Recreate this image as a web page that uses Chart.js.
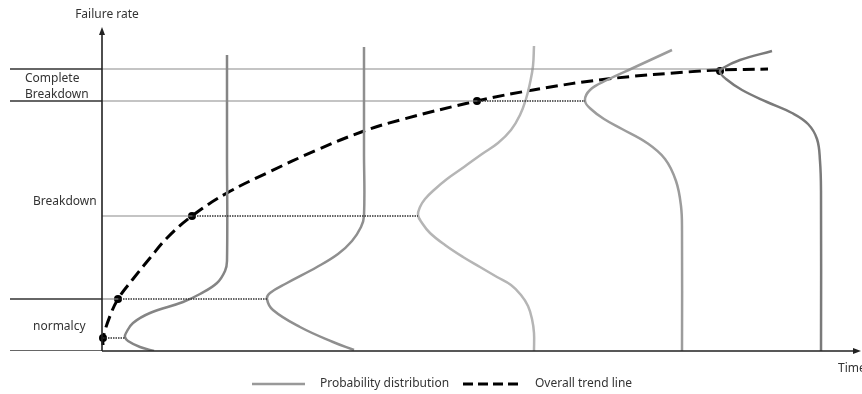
<!DOCTYPE html>
<html>
<head>
<meta charset="utf-8">
<script src="https://cdn.jsdelivr.net/npm/chart.js@4.4.1/dist/chart.umd.min.js"></script>
<style>
  html, body { margin: 0; padding: 0; background: #fff; }
  #wrap { width: 862px; height: 394px; position: relative; }
</style>
</head>
<body>
<div id="wrap"><canvas id="myChart"></canvas></div>
<script>
// zone boundaries on the failure-rate axis
const zoneBounds = [0, 52, 250, 282];
const zoneNames = [["normalcy"], ["Breakdown"], ["Complete", "Breakdown"]];

// overall trend line
const trendX = [1, 1, 8, 16, 31, 48, 65, 90, 125, 165, 215, 262, 298, 375, 431, 505, 598, 618, 666];
const trendY = [6, 13, 35, 52, 72, 93, 113, 135, 158, 178, 201, 220, 231, 250, 261, 272, 280, 281, 282];

// marked points on the trend, and where each distribution peaks
const markX = [1, 16, 90, 375, 618];
const markY = [13, 52, 135, 250, 280];
const peakX = [23, 165, 316, 483, 618];

// thin guide lines from the axis to a marked point
const guideY = [52, 135, 250, 282];
const guideEndX = [16, 90, 375, 618];

// probability distribution curves
const dist1X = [125, 125, 125, 123, 115, 98, 81, 48, 31, 24, 23, 26, 38, 52];
const dist1Y = [296, 200, 90, 80, 68, 57, 49, 38, 28, 18, 14, 10, 4, 0];
const dist2X = [262, 262, 262, 259, 250, 236, 215, 185, 168, 165, 171, 198, 231, 252];
const dist2Y = [304, 200, 135, 124, 110, 97, 84, 68, 58, 52, 41, 24, 9, 1];
const dist3X = [432, 431, 428, 424, 418, 409, 396, 380, 362, 345, 332, 323, 318, 316, 320, 328, 343, 361, 378, 395, 409, 419, 426, 430, 432, 432];
const dist3Y = [305, 285, 268, 252, 236, 221, 208, 197, 184, 172, 161, 152, 144, 136, 128, 118, 106, 94, 84, 74, 66, 56, 45, 32, 18, 0];
const dist4X = [570, 531, 505, 488, 483, 490, 502, 520, 545, 563, 574, 579, 580, 580];
const dist4Y = [301, 283, 271, 261, 250, 241, 232, 222, 208, 192, 170, 145, 120, 0];
const dist5X = [670, 638, 621, 618, 624, 640, 665, 690, 706, 715, 718, 719, 719];
const dist5Y = [300, 291, 283, 279, 272, 261, 249, 238, 227, 212, 190, 160, 0];

const distColors = ["#858585", "#8f8f8f", "#b5b5b5", "#9c9c9c", "#7a7a7a"];

const pts = (xs, ys) => xs.map((x, i) => ({ x: x, y: ys[i] }));

const datasets = [];

// thick zone ticks left of the axis
zoneBounds.forEach(y => {
    datasets.push({ data: [{ x: -92, y: y }, { x: 0, y: y }], borderColor: "#333", borderWidth: 1.6, pointRadius: 0 });
});
// thin guides
guideY.forEach((y, i) => {
    datasets.push({ data: [{ x: 0, y: y }, { x: guideEndX[i], y: y }], borderColor: "#8a8a8a", borderWidth: 1.2, pointRadius: 0 });
});
// dotted links from marked point to the peak of its distribution
markY.forEach((y, i) => {
    if (peakX[i] === markX[i]) return;
    datasets.push({ data: [{ x: markX[i], y: y }, { x: peakX[i], y: y }], borderColor: "#333", borderWidth: 1.5, borderDash: [1.5, 1], pointRadius: 0 });
});

[[dist1X, dist1Y], [dist2X, dist2Y], [dist3X, dist3Y], [dist4X, dist4Y], [dist5X, dist5Y]].forEach((d, i) => {
    datasets.push({ data: pts(d[0], d[1]), borderColor: distColors[i], borderWidth: 2.5, pointRadius: 0, tension: 0.4 });
});

datasets.push({ data: pts(trendX, trendY), borderColor: "#000", borderWidth: 3, borderDash: [12, 6], pointRadius: 0, tension: 0.4 });
datasets.push({ data: pts(markX, markY), showLine: false, pointRadius: 4, pointBackgroundColor: "#000", pointBorderColor: "#000", pointBorderWidth: 0 });

const FONT = '12px "Noto Sans", sans-serif';

const decor = {
    id: "decor",
    afterDatasetsDraw(chart) {
        const ctx = chart.ctx;
        const xs = chart.scales.x, ys = chart.scales.y;
        const ox = xs.getPixelForValue(0), oy = ys.getPixelForValue(0);
        ctx.save();
        // axes with arrows
        ctx.strokeStyle = "#222";
        ctx.fillStyle = "#222";
        ctx.lineWidth = 1.6;
        ctx.beginPath();
        ctx.moveTo(ox, oy); ctx.lineTo(ox, 32);
        ctx.moveTo(ox, oy); ctx.lineTo(856, oy);
        ctx.stroke();
        ctx.beginPath();
        ctx.moveTo(ox, 27); ctx.lineTo(ox - 3, 35); ctx.lineTo(ox + 3, 35); ctx.closePath(); ctx.fill();
        ctx.beginPath();
        ctx.moveTo(861, oy); ctx.lineTo(853, oy - 3); ctx.lineTo(853, oy + 3); ctx.closePath(); ctx.fill();

        // texts
        ctx.font = FONT;
        ctx.fillStyle = "#333";
        ctx.textBaseline = "middle";
        ctx.textAlign = "center";
        ctx.fillText("Failure rate", 107, 15);
        ctx.textAlign = "left";
        ctx.fillText("Time", 838, 369);
        zoneNames.forEach((lines, i) => {
            const mid = ys.getPixelForValue((zoneBounds[i] + zoneBounds[i + 1]) / 2) + 1.5;
            const left = lines.length > 1 ? 25 : 33;
            lines.forEach((t, j) => {
                ctx.fillText(t, left, mid + (j - (lines.length - 1) / 2) * 15.5);
            });
        });

        // legend
        const ly = 384;
        ctx.strokeStyle = "#999";
        ctx.lineWidth = 2.5;
        ctx.beginPath(); ctx.moveTo(252, ly); ctx.lineTo(305, ly); ctx.stroke();
        ctx.fillText("Probability distribution", 320, ly);
        ctx.strokeStyle = "#000";
        ctx.lineWidth = 3;
        ctx.setLineDash([10, 5]);
        ctx.beginPath(); ctx.moveTo(463, ly); ctx.lineTo(518, ly); ctx.stroke();
        ctx.setLineDash([]);
        ctx.fillText("Overall trend line", 535, ly);
        ctx.restore();
    }
};

new Chart("myChart", {
    type: "line",
    data: { datasets: datasets },
    options: {
        responsive: true,
        maintainAspectRatio: false,
        animation: false,
        layout: { autoPadding: false, padding: { left: 0, right: 0, top: 11, bottom: 43 } },
        scales: {
            x: { type: "linear", min: -102, max: 760, display: false },
            y: { type: "linear", min: 0, max: 340, display: false }
        },
        plugins: {
            legend: { display: false },
            tooltip: { enabled: false }
        }
    },
    plugins: [decor]
});
</script>
</body>
</html>
